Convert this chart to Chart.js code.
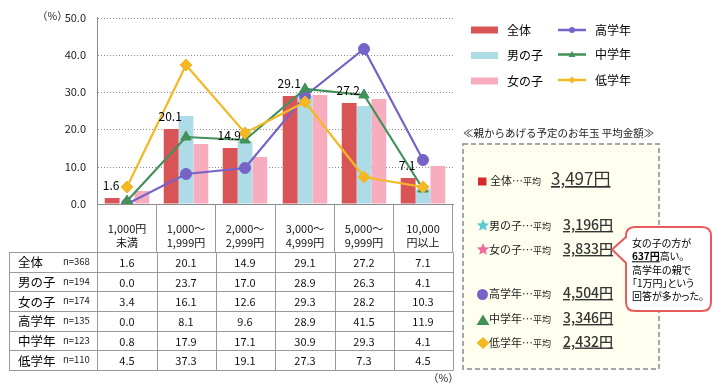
<!DOCTYPE html>
<html><head><meta charset="utf-8">
<script src="https://cdn.jsdelivr.net/npm/chart.js@4.4.1/dist/chart.umd.min.js"></script>
<style>
html,body{margin:0;padding:0;background:#fff;}
#wrap{position:relative;width:713px;height:385px;overflow:hidden;}
#c{position:absolute;left:0;top:0;}
#ov{position:absolute;left:0;top:0;pointer-events:none;}
#ov text{font-family:"Noto Sans CJK JP","Noto Sans",sans-serif;}
.palt{font-feature-settings:"palt" 1;}
</style></head>
<body><div id="wrap"><canvas id="c" width="713" height="385"></canvas>
<svg id="ov" width="713" height="385" xmlns="http://www.w3.org/2000/svg"></svg></div>
<script>
// ---- data ----
const categories = [["1,000円","未満"],["1,000～","1,999円"],["2,000～","2,999円"],["3,000～","4,999円"],["5,000～","9,999円"],["10,000","円以上"]];
const rowLabels = ["全体","男の子","女の子","高学年","中学年","低学年"];
const rowN = ["n=368","n=194","n=174","n=135","n=123","n=110"];
const allKids = [1.6,20.1,14.9,29.1,27.2,7.1];
const boys = [0.0,23.7,17.0,28.9,26.3,4.1];
const girls = [3.4,16.1,12.6,29.3,28.2,10.3];
const upperGrade = [0.0,8.1,9.6,28.9,41.5,11.9];
const middleGrade = [0.8,17.9,17.1,30.9,29.3,4.1];
const lowerGrade = [4.5,37.3,19.1,27.3,7.3,4.5];
const yMin = 0, yMax = 50, yStep = 10;
const avgTitle = "≪親からあげる予定のお年玉 平均金額≫";
const avgValues = ["3,497","3,196","3,833","4,504","3,346","2,432"];
const bubbleLines = ["女の子の方が","637円|高い。","高学年の親で","「1万円」という","回答が多かった。"];

const FONT = '"Noto Sans CJK JP","Noto Sans",sans-serif';
const RED='#D95457', BLUE='#ADDCE7', PINK='#F8ADBE', PURPLE='#7563C8', GREEN='#42905A', ORANGE='#F3B824';
const tableRows = [allKids, boys, girls, upperGrade, middleGrade, lowerGrade];

const barLabels = {
  id:'barLabels',
  afterDatasetsDraw(chart){
    const meta = chart.getDatasetMeta(0), c = chart.ctx;
    c.save();
    c.font = '12px ' + FONT; c.fillStyle = '#000'; c.textAlign = 'center'; c.textBaseline = 'middle';
    meta.data.forEach((bar,i)=>{ c.fillText(allKids[i].toFixed(1), bar.x - 1, bar.y - 13); });
    c.restore();
  }
};

const chart = new Chart(document.getElementById('c'), {
  data: {
    labels: categories,
    datasets: [
      {type:'bar', label:'全体', data:allKids, backgroundColor:RED, borderWidth:0, order:10},
      {type:'bar', label:'男の子', data:boys, backgroundColor:BLUE, borderWidth:0, order:10},
      {type:'bar', label:'女の子', data:girls, backgroundColor:PINK, borderWidth:0, order:10},
      {type:'line', label:'高学年', data:upperGrade, borderColor:PURPLE, backgroundColor:PURPLE, borderWidth:2.2, pointStyle:'circle', pointRadius:5.5, pointBorderWidth:1, tension:0, fill:false, order:3},
      {type:'line', label:'中学年', data:middleGrade, borderColor:GREEN, backgroundColor:GREEN, borderWidth:2.2, pointStyle:'triangle', pointRadius:6, pointBorderWidth:1, tension:0, fill:false, order:2},
      {type:'line', label:'低学年', data:lowerGrade, borderColor:ORANGE, backgroundColor:ORANGE, borderWidth:2.2, pointStyle:'rectRot', pointRadius:6, pointBorderWidth:1, tension:0, fill:false, order:1}
    ]
  },
  options: {
    responsive:false, animation:false, devicePixelRatio:1,
    layout:{padding:{left:0, top:17, right:260, bottom:133}},
    plugins:{legend:{display:false}, tooltip:{enabled:false}},
    datasets:{bar:{categoryPercentage:0.755, barPercentage:1.0}},
    scales:{
      x:{
        alignToPixels:true,
        grid:{display:true, drawOnChartArea:false, drawTicks:true, tickLength:48, color:'#9a9a9a', offset:true},
        border:{color:'#8c8c8c'},
        ticks:{font:{family:FONT, size:11, lineHeight:1.35}, color:'#111', padding:-31, maxRotation:0, autoSkip:false},
        afterFit(s){ s.height = 48; }
      },
      y:{
        alignToPixels:true,
        min:yMin, max:yMax,
        ticks:{stepSize:yStep, callback:v=>v.toFixed(1), font:{family:FONT, size:11}, color:'#222', padding:11},
        grid:{color:'#8c8c8c', drawTicks:false, lineWidth:1},
        border:{color:'#8c8c8c', dash:[1,2]},
        afterFit(s){ s.width = 97; }
      }
    }
  },
  plugins:[barLabels]
});

// ---- overlay (table + side panel) ----
const NS='http://www.w3.org/2000/svg', svg=document.getElementById('ov');
function el(tag, attrs, parent){ const e=document.createElementNS(NS,tag); for(const k in attrs) e.setAttribute(k, attrs[k]); (parent||svg).appendChild(e); return e; }
function txt(s, attrs, parent){ const e=el('text', attrs, parent); e.textContent=s; return e; }
function tsp(parent, s, attrs){ const e=el('tspan', attrs||{}, parent); e.textContent=s; return e; }

const xs = chart.scales.x, area = chart.chartArea;
const colW = (area.right - area.left)/categories.length;
const tLeft = 9, tTop = xs.bottom, tBottom = 370, rowH = (tBottom - tTop)/rowLabels.length;
const px = v => Math.round(v) + 0.5;
const LC = '#9a9a9a';
for (let r=0; r<=rowLabels.length; r++) el('line',{x1:tLeft, x2:px(area.right), y1:px(tTop + r*rowH), y2:px(tTop + r*rowH), stroke:LC, 'stroke-width':1});
const vx = [tLeft, area.left];
for (let i=0;i<categories.length;i++) vx.push(xs.getPixelForValue(i) + colW/2);
vx.forEach(x=> el('line',{x1:px(x), x2:px(x), y1:px(tTop), y2:px(tBottom), stroke:LC, 'stroke-width':1}));
rowLabels.forEach((lab,r)=>{
  const cy = tTop + (r+0.5)*rowH;
  txt(lab,{x:18, y:cy, 'font-size':12.5, fill:'#000', 'dominant-baseline':'central'});
  txt(rowN[r],{x:63, y:cy-1, 'font-size':9.5, fill:'#222', 'dominant-baseline':'central'});
  tableRows[r].forEach((v,i)=> txt(v.toFixed(1),{x:xs.getPixelForValue(i), y:cy, 'font-size':11, fill:'#111', 'text-anchor':'middle', 'dominant-baseline':'central'}));
});
txt('（%）',{x:37, y:15, 'font-size':10.5, fill:'#222', 'dominant-baseline':'central'});
txt('（%）',{x:428, y:377.5, 'font-size':10.5, fill:'#222', 'dominant-baseline':'central'});

// legend
const ds = chart.data.datasets;
[0,1,2].forEach((d,k)=>{
  const cy = [30, 55.5, 81][k];
  el('rect',{x:471, y:cy-3.5, width:27, height:7, fill:ds[d].backgroundColor});
  txt(ds[d].label,{x:507, y:cy-1, 'font-size':12, fill:'#000', 'dominant-baseline':'central'});
});
[3,4,5].forEach((d,k)=>{
  const cy = [30, 54.5, 80][k], col = ds[d].borderColor, mx = 572;
  el('line',{x1:558, x2:586, y1:cy, y2:cy, stroke:col, 'stroke-width':2.5});
  if (k===0) el('circle',{cx:mx, cy:cy, r:3, fill:col});
  if (k===1) el('polygon',{points:`${mx-3.5},${cy+2.5} ${mx+3.5},${cy+2.5} ${mx},${cy-3.5}`, fill:col});
  if (k===2) el('polygon',{points:`${mx-3.5},${cy} ${mx},${cy-3.5} ${mx+3.5},${cy} ${mx},${cy+3.5}`, fill:col});
  txt(ds[d].label,{x:595, y:cy-1, 'font-size':12, fill:'#000', 'dominant-baseline':'central'});
});

// averages box
txt(avgTitle,{x:463, y:132.5, 'font-size':10.5, fill:'#222', 'dominant-baseline':'central'});
el('rect',{x:463, y:144, width:196, height:225, fill:'#FFFFF0', stroke:'#A6A6A6', 'stroke-width':2, 'stroke-dasharray':'5,3'});
const baseY = [185, 230, 254, 298, 323, 346.5];
function star(cx, cy, R, col){
  const pts=[]; for(let i=0;i<10;i++){ const a=-Math.PI/2 + i*Math.PI/5, rr = i%2 ? R*0.45 : R; pts.push((cx+rr*Math.cos(a)).toFixed(2)+','+(cy+rr*Math.sin(a)).toFixed(2)); }
  el('polygon',{points:pts.join(' '), fill:col});
}
el('rect',{x:478, y:177.5, width:8.5, height:8, fill:'#D42A2A'});
star(483, 225.5, 6.5, '#5BC8D4');
star(483, 249.5, 6.5, '#F06A9F');
el('circle',{cx:482.5, cy:294.5, r:5.5, fill:PURPLE});
el('polygon',{points:'476.5,325 489.5,325 483,314.5', fill:GREEN});
el('polygon',{points:'476.5,343 483,337 489.5,343 483,349', fill:ORANGE});
rowLabels.forEach((lab,r)=>{
  const t = txt('',{x: r===0 ? 490 : 489, y:baseY[r], fill:'#222'});
  tsp(t, lab + '…', {'font-size':11});
  tsp(t, '平均', {'font-size':9});
  const v = tsp(t, avgValues[r] + '円', {x: r===0 ? 551 : 563, 'font-size': r===0 ? 17 : 14, 'font-weight': r===0 ? 400 : 500, fill:'#333'});
  v.setAttribute('style','text-decoration:underline');
});

// callout bubble
el('path',{d:'M635 227 H702 Q711 227 711 236 V302 Q711 311 702 311 H635 Q626 311 626 302 V263 L612 249.5 L626 237 V236 Q626 227 635 227 Z', fill:'#fff', stroke:'#E85A5C', 'stroke-width':2});
const bY = [242, 255.3, 268.6, 282, 295.3];
bubbleLines.forEach((s,i)=>{
  const t = txt('',{x:632, y:bY[i], 'font-size':10, fill:'#000', 'dominant-baseline':'central', class:'palt'});
  if (s.includes('|')) {
    const [a,b] = s.split('|');
    const u = tsp(t, a, {'font-weight':700}); u.setAttribute('style','text-decoration:underline');
    tsp(t, b);
  } else tsp(t, s);
});
</script></body></html>
